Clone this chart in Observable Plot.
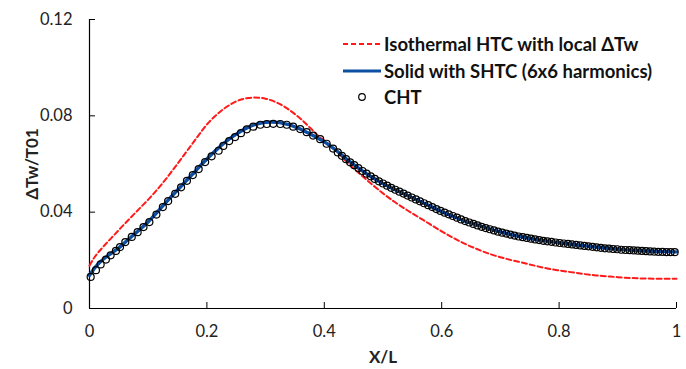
<!DOCTYPE html>
<html><head><meta charset="utf-8">
<script src="https://cdn.jsdelivr.net/npm/d3@7"></script>
<script src="https://cdn.jsdelivr.net/npm/@observablehq/plot@0.6"></script>
<style>
body{margin:0;background:#fff;}
#wrap{position:relative;width:686px;height:369px;font-family:Lato,"Open Sans",sans-serif;}
#legend{position:absolute;left:342px;top:31px;font-weight:bold;font-size:18.5px;color:#111;}
.row{display:flex;align-items:center;height:26.5px;white-space:nowrap;}
.row svg{width:40px;height:14px;margin-right:2px;flex:none;}
</style></head><body><div id="wrap"><div id="legend"></div></div>
<script>
// ---- data ----
const xTicks = [0, 0.2, 0.4, 0.6, 0.8, 1];
const xTickLabels = ["0", "0.2", "0.4", "0.6", "0.8", "1"];
const yTicks = [0, 0.04, 0.08, 0.12];
const yTickLabels = ["0", "0.04", "0.08", "0.12"];
const xLabel = "X/L";
const yLabel = "ΔTw/T01";
const seriesNames = ["Isothermal HTC with local ΔTw", "Solid with SHTC (6x6 harmonics)", "CHT"];

const redX = [0,0.01,0.02,0.03,0.04,0.05,0.06,0.07,0.08,0.09,0.10,0.11,0.12,0.13,0.14,0.15,0.16,0.17,0.18,0.19,0.20,0.21,0.22,0.23,0.24,0.25,0.26,0.27,0.28,0.29,0.30,0.31,0.32,0.33,0.34,0.35,0.36,0.37,0.38,0.39,0.40,0.41,0.42,0.43,0.44,0.46,0.48,0.50,0.52,0.54,0.56,0.58,0.60,0.62,0.64,0.66,0.68,0.70,0.72,0.74,0.76,0.78,0.80,0.82,0.84,0.86,0.88,0.90,0.92,0.94,0.96,0.98,1.00];
const redY = [0.0178,0.0218,0.0247,0.0274,0.0300,0.0326,0.0352,0.0377,0.0402,0.0427,0.0452,0.0479,0.0507,0.0537,0.0569,0.0601,0.0634,0.0667,0.0700,0.0733,0.0764,0.0790,0.0812,0.0831,0.0847,0.0860,0.0869,0.0874,0.0876,0.0875,0.0871,0.0864,0.0854,0.0841,0.0825,0.0807,0.0787,0.0764,0.0740,0.0716,0.0697,0.0677,0.0655,0.0630,0.0604,0.0560,0.0518,0.0478,0.0442,0.0410,0.0380,0.0350,0.0320,0.0293,0.0268,0.0247,0.0228,0.0213,0.0200,0.0189,0.0177,0.0166,0.0158,0.0151,0.0144,0.0138,0.0134,0.0130,0.0127,0.0125,0.0124,0.0124,0.0124];

const blueX = [0,0.01,0.02,0.03,0.04,0.05,0.06,0.07,0.08,0.09,0.10,0.11,0.12,0.13,0.14,0.15,0.16,0.17,0.18,0.19,0.20,0.21,0.22,0.23,0.24,0.25,0.26,0.27,0.28,0.29,0.30,0.31,0.32,0.33,0.34,0.35,0.36,0.37,0.38,0.39,0.40,0.42,0.44,0.46,0.48,0.50,0.52,0.54,0.56,0.58,0.60,0.62,0.64,0.66,0.68,0.70,0.72,0.74,0.76,0.78,0.80,0.82,0.84,0.86,0.88,0.90,0.92,0.94,0.96,0.98,1.00];
const blueY = [0.0138,0.0172,0.0197,0.0217,0.0234,0.0252,0.0273,0.0295,0.0316,0.0337,0.0360,0.0386,0.0413,0.0440,0.0466,0.0492,0.0518,0.0544,0.0569,0.0596,0.0621,0.0645,0.0667,0.0688,0.0707,0.0724,0.0739,0.0752,0.0762,0.0769,0.0773,0.0774,0.0773,0.0769,0.0763,0.0754,0.0744,0.0732,0.0719,0.0706,0.0692,0.0657,0.0616,0.0580,0.0547,0.0519,0.0494,0.0471,0.0448,0.0425,0.0402,0.0382,0.0363,0.0347,0.0331,0.0318,0.0306,0.0296,0.0287,0.0280,0.0273,0.0267,0.0261,0.0256,0.0251,0.0247,0.0243,0.0240,0.0238,0.0236,0.0235];

const chtX = [0.002,0.011,0.019,0.028,0.036,0.045,0.052,0.061,0.072,0.082,0.092,0.102,0.114,0.125,0.134,0.146,0.156,0.166,0.176,0.186,0.197,0.208,0.220,0.228,0.238,0.248,0.258,0.268,0.279,0.291,0.302,0.313,0.325,0.336,0.347,0.359,0.370,0.381,0.393,0.404,0.415,
0.423,0.430,0.437,0.444,0.451,0.458,0.465,0.472,0.479,0.486,0.493,0.500,0.507,0.514,0.521,0.528,0.535,0.542,0.549,0.556,0.563,0.570,0.577,0.584,0.591,0.598,0.605,0.612,0.619,0.626,0.633,0.640,0.647,0.654,0.661,0.668,0.675,0.682,0.689,0.696,0.703,0.710,0.717,0.724,0.731,0.738,0.745,0.752,0.759,0.766,0.773,0.780,0.787,0.794,0.801,0.808,0.815,0.822,0.829,0.836,0.843,0.850,0.857,0.864,0.871,0.878,0.885,0.892,0.899,0.906,0.913,0.920,0.927,0.934,0.941,0.948,0.955,0.962,0.969,0.976,0.983,0.990,0.997];
const chtY = [0.0131,0.0159,0.0183,0.0203,0.0221,0.0239,0.0255,0.0276,0.0297,0.0317,0.0338,0.0359,0.0390,0.0421,0.0446,0.0476,0.0503,0.0530,0.0554,0.0579,0.0608,0.0632,0.0655,0.0675,0.0695,0.0712,0.0728,0.0744,0.0755,0.0763,0.0766,0.0767,0.0766,0.0763,0.0755,0.0745,0.0732,0.0718,0.0703,0.0684,0.0664,
0.0648,0.0634,0.0620,0.0607,0.0595,0.0583,0.0571,0.0560,0.0549,0.0538,0.0528,0.0519,0.0510,0.0501,0.0493,0.0485,0.0477,0.0469,0.0461,0.0453,0.0445,0.0437,0.0429,0.0421,0.0413,0.0405,0.0398,0.0391,0.0384,0.0377,0.0370,0.0363,0.0357,0.0351,0.0345,0.0339,0.0334,0.0329,0.0324,0.0319,0.0315,0.0311,0.0307,0.0303,0.0299,0.0296,0.0293,0.0290,0.0287,0.0284,0.0281,0.0279,0.0277,0.0274,0.0272,0.0270,0.0268,0.0266,0.0264,0.0262,0.0260,0.0258,0.0256,0.0254,0.0252,0.0250,0.0249,0.0247,0.0246,0.0244,0.0243,0.0242,0.0241,0.0240,0.0239,0.0238,0.0237,0.0236,0.0235,0.0235,0.0234,0.0234,0.0234];

// ---- styles ----
const RED = "#ff1a1a", BLUE = "#0b4ea2";

const red = redX.map((x, i) => ({x, y: redY[i]}));
const blue = blueX.map((x, i) => ({x, y: blueY[i]}));
const cht = chtX.map((x, i) => ({x, y: chtY[i]}));

const chart = Plot.plot({
  width: 686, height: 369,
  marginLeft: 89, marginRight: 10, marginTop: 19, marginBottom: 61,
  style: {fontFamily: "Lato, 'Open Sans', sans-serif", fontSize: "16.5px", color: "#222", background: "#fff", overflow: "visible"},
  x: {domain: [0, 1]},
  y: {domain: [0, 0.12]},
  marks: [
    Plot.axisX({ticks: xTicks, tickSize: -6, tickPadding: 23, tickFormat: (d, i) => xTickLabels[i], label: null, stroke: "#000"}),
    Plot.axisY({ticks: yTicks, tickSize: -6, tickPadding: 23, tickFormat: (d, i) => yTickLabels[i], label: null, stroke: "#000"}),
    Plot.ruleX([0], {stroke: "#000", strokeWidth: 1.2}),
    Plot.ruleY([0], {stroke: "#000", strokeWidth: 1.2}),
    Plot.line(red, {x: "x", y: "y", stroke: RED, strokeWidth: 2, strokeDasharray: "5,3", curve: "monotone-x"}),
    Plot.line(blue, {x: "x", y: "y", stroke: BLUE, strokeWidth: 3.4, curve: "monotone-x"}),
    Plot.dot(cht, {x: "x", y: "y", r: 3.5, stroke: "#000", strokeWidth: 1.2, fill: "none"}),
    Plot.text([xLabel], {frameAnchor: "bottom", dy: 49, lineAnchor: "middle", textAnchor: "middle", fontWeight: "bold", fontSize: 17, fill: "#222"}),
    Plot.text([yLabel], {frameAnchor: "left", dx: -57, rotate: -90, textAnchor: "middle", lineAnchor: "middle", fontWeight: "bold", fontSize: 17, fill: "#222"})
  ]
});
document.getElementById("wrap").prepend(chart);

// ---- legend ----
const legend = document.getElementById("legend");
const swatches = [
  `<svg viewBox="0 0 40 14"><line x1="1" y1="7" x2="39" y2="7" stroke="${RED}" stroke-width="2" stroke-dasharray="5,3"/></svg>`,
  `<svg viewBox="0 0 40 14"><line x1="1" y1="7" x2="39" y2="7" stroke="${BLUE}" stroke-width="3"/></svg>`,
  `<svg viewBox="0 0 40 14"><circle cx="20" cy="7" r="3.3" fill="none" stroke="#000" stroke-width="1.2"/></svg>`
];
seriesNames.forEach((name, i) => {
  const row = document.createElement("div");
  row.className = "row";
  row.innerHTML = swatches[i] + `<span>${name}</span>`;
  legend.appendChild(row);
});
</script>
</body></html>
